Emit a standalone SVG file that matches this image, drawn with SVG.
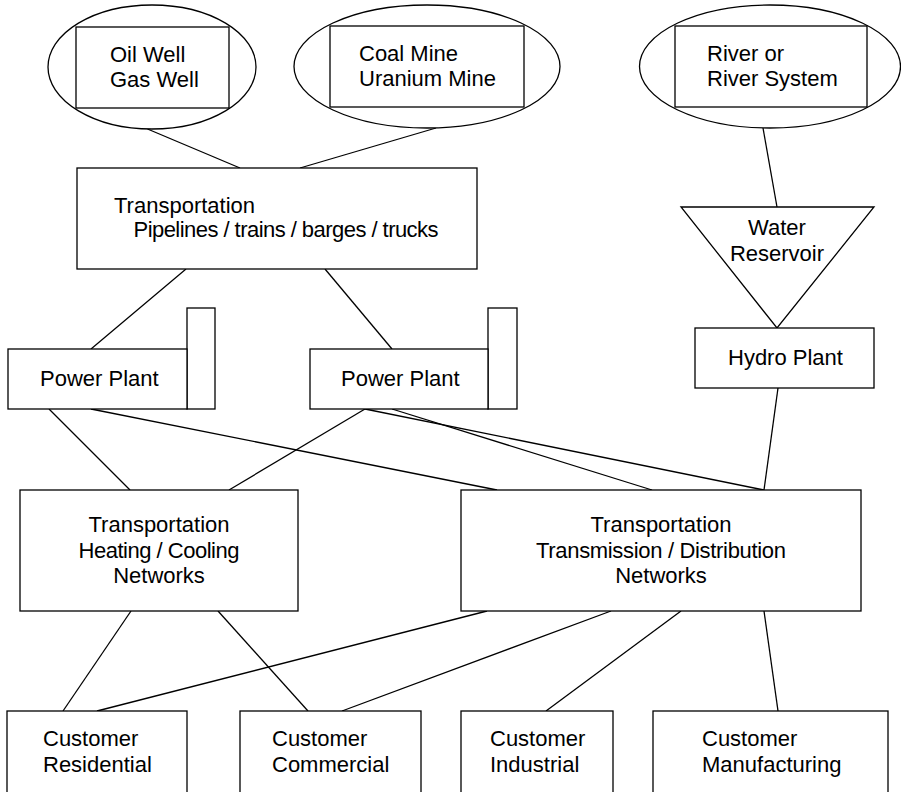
<svg xmlns="http://www.w3.org/2000/svg" width="901" height="792" viewBox="0 0 901 792">
<style>
.s{fill:#fff;stroke:#000;stroke-width:1.3}
.c line{stroke:#000;stroke-width:1.3}
text{font-family:"Liberation Sans",Arial,Helvetica,sans-serif;font-size:22px;fill:#000}
.m{text-anchor:middle}
</style>
<rect width="901" height="792" fill="#fff"/>
<g class="c" id="connectors">
<line x1="147.5" y1="129" x2="240" y2="168"/>
<line x1="436" y1="128" x2="300" y2="168"/>
<line x1="763" y1="128" x2="777" y2="207"/>
<line x1="186" y1="269" x2="91" y2="349"/>
<line x1="325" y1="269" x2="392" y2="349"/>
<line x1="778" y1="388" x2="764" y2="490"/>
<line x1="49" y1="409" x2="130" y2="490"/>
<line x1="91" y1="409" x2="497" y2="490"/>
<line x1="365" y1="409" x2="229" y2="490"/>
<line x1="365" y1="409" x2="764" y2="490"/>
<line x1="392" y1="409" x2="652" y2="490"/>
<line x1="131" y1="611" x2="63" y2="711"/>
<line x1="218" y1="611" x2="308" y2="711"/>
<line x1="487" y1="611" x2="97" y2="711"/>
<line x1="611" y1="611" x2="342" y2="711"/>
<line x1="681" y1="611" x2="546" y2="711"/>
<line x1="764" y1="611" x2="778" y2="711"/>
</g>
<g id="oil">
<ellipse class="s" cx="152" cy="67" rx="104" ry="62"/>
<rect class="s" x="76" y="27" width="153" height="81"/>
<text x="110" y="62">Oil Well</text>
<text x="110" y="87">Gas Well</text>
</g>
<g id="coal">
<ellipse class="s" cx="427" cy="66.5" rx="133" ry="61.5"/>
<rect class="s" x="330" y="26" width="194" height="81"/>
<text x="359" y="61">Coal Mine</text>
<text x="359" y="86">Uranium Mine</text>
</g>
<g id="river">
<ellipse class="s" cx="770" cy="66.5" rx="130.5" ry="61.5"/>
<rect class="s" x="675" y="26" width="192" height="81"/>
<text x="707" y="61">River or</text>
<text x="707" y="86">River System</text>
</g>
<g id="transport">
<rect class="s" x="77" y="168" width="400" height="101"/>
<text x="114" y="213">Transportation</text>
<text x="133.5" y="237" textLength="305" lengthAdjust="spacing">Pipelines / trains / barges / trucks</text>
</g>
<g id="power1">
<rect class="s" x="187" y="308" width="28" height="101"/>
<rect class="s" x="8" y="349" width="179" height="60"/>
<text x="40" y="386">Power Plant</text>
</g>
<g id="power2">
<rect class="s" x="488" y="308" width="29" height="101"/>
<rect class="s" x="310" y="349" width="178" height="60"/>
<text x="341" y="386">Power Plant</text>
</g>
<g id="reservoir">
<polygon class="s" points="681,207 874,207 777,328"/>
<text class="m" x="777" y="235">Water</text>
<text class="m" x="777" y="260.6">Reservoir</text>
</g>
<g id="hydro">
<rect class="s" x="695" y="328" width="179" height="60"/>
<text x="728" y="365">Hydro Plant</text>
</g>
<g id="heating">
<rect class="s" x="20" y="490" width="278" height="121"/>
<text class="m" x="159" y="531.7">Transportation</text>
<text class="m" x="159" y="557.7" textLength="161" lengthAdjust="spacing">Heating / Cooling</text>
<text class="m" x="159" y="583.3">Networks</text>
</g>
<g id="transmission">
<rect class="s" x="461" y="490" width="400" height="121"/>
<text class="m" x="661" y="531.7">Transportation</text>
<text class="m" x="661" y="557.7" textLength="250" lengthAdjust="spacing">Transmission / Distribution</text>
<text class="m" x="661" y="583.3">Networks</text>
</g>
<g id="residential">
<rect class="s" x="7" y="711" width="180" height="100"/>
<text x="43" y="746">Customer</text>
<text x="43" y="771.7">Residential</text>
</g>
<g id="commercial">
<rect class="s" x="240" y="711" width="181" height="100"/>
<text x="272" y="746">Customer</text>
<text x="272" y="771.7">Commercial</text>
</g>
<g id="industrial">
<rect class="s" x="461" y="711" width="152" height="100"/>
<text x="490" y="746">Customer</text>
<text x="490" y="771.7">Industrial</text>
</g>
<g id="manufacturing">
<rect class="s" x="653" y="711" width="235" height="100"/>
<text x="702" y="746">Customer</text>
<text x="702" y="771.7">Manufacturing</text>
</g>
</svg>
